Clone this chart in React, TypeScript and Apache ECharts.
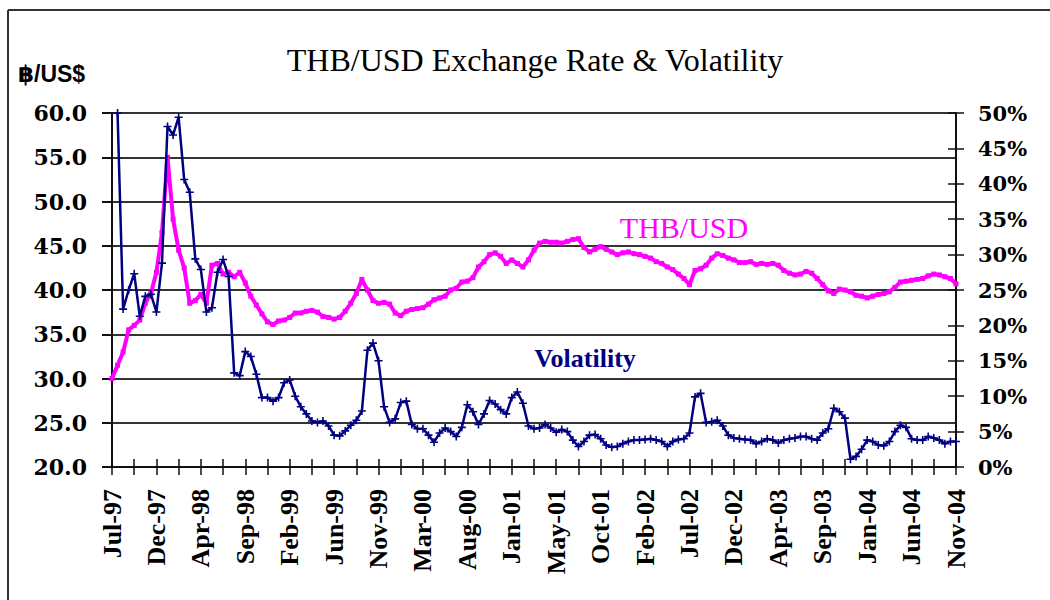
import React, { useEffect, useRef } from "react";
import * as echarts from "echarts";

// Tick labels on the date axis (one every 8 data points)
const dateLabels = [
  "Jul-97", "Dec-97", "Apr-98", "Sep-98", "Feb-99", "Jun-99", "Nov-99",
  "Mar-00", "Aug-00", "Jan-01", "May-01", "Oct-01", "Feb-02", "Jul-02",
  "Dec-02", "Apr-03", "Sep-03", "Jan-04", "Jun-04", "Nov-04",
];
const POINTS_PER_LABEL = 8;

// THB per USD (left axis)
const thbUsd = [
  30.0, 31.5, 33.0, 35.5, 36.0, 36.6, 38.5, 39.6, 42.0, 46.5,
  55.0, 48.0, 44.5, 42.5, 38.5, 38.8, 39.5, 38.5, 42.8, 43.0,
  41.8, 42.0, 41.5, 42.0, 40.8, 39.3, 38.3, 37.3, 36.4, 36.1,
  36.5, 36.6, 36.9, 37.4, 37.4, 37.6, 37.7, 37.5, 37.0, 36.9,
  36.7, 36.9, 37.6, 38.5, 39.6, 41.2, 40.0, 38.8, 38.5, 38.6,
  38.4, 37.4, 37.1, 37.6, 37.8, 37.9, 38.0, 38.4, 38.9, 39.1,
  39.3, 40.0, 40.2, 40.9, 41.0, 41.4, 42.6, 43.2, 44.0, 44.2,
  43.8, 43.0, 43.4, 43.0, 42.6, 43.4, 44.5, 45.3, 45.5, 45.4,
  45.4, 45.3, 45.5, 45.7, 45.8, 44.8, 44.3, 44.6, 44.9, 44.6,
  44.3, 44.0, 44.2, 44.3, 44.1, 44.0, 43.8, 43.6, 43.2, 43.0,
  42.6, 42.3, 41.8, 41.3, 40.6, 42.2, 42.4, 42.8, 43.6, 44.1,
  43.9, 43.6, 43.4, 43.1, 43.1, 43.2, 42.9, 43.0, 42.9, 43.0,
  42.8, 42.2, 41.9, 41.7, 41.8, 42.1, 41.9, 41.3, 40.6, 39.9,
  39.6, 40.1, 40.0, 39.8, 39.4, 39.3, 39.1, 39.3, 39.5, 39.6,
  39.8, 40.3, 40.9, 41.0, 41.1, 41.2, 41.3, 41.6, 41.8, 41.7,
  41.5, 41.3, 40.7,
];

// Volatility in % (right axis)
const volatility = [
  null, 50, 22.3, 25, 27.3, 21.3, 24.1, 24.4, 21.9, 28.8,
  48.1, 46.9, 49.4, 40.6, 38.8, 29.4, 27.9, 21.9, 22.5, 27.5,
  29.3, 26.9, 13.3, 12.9, 16.3, 15.6, 13.1, 9.8, 9.8, 9.3,
  9.8, 11.9, 12.3, 10.0, 8.5, 7.5, 6.5, 6.3, 6.5, 5.8,
  4.5, 4.4, 5.1, 5.9, 6.6, 7.9, 16.5, 17.5, 15.0, 8.5,
  6.3, 6.8, 9.1, 9.3, 6.0, 5.4, 5.4, 4.5, 3.5, 4.8,
  5.5, 5.0, 4.3, 5.6, 8.8, 7.8, 6.0, 7.5, 9.4, 8.9,
  8.1, 7.5, 9.8, 10.6, 9.0, 5.8, 5.4, 5.5, 6.0, 5.5,
  4.9, 5.3, 5.0, 3.8, 2.9, 3.6, 4.5, 4.6, 4.0, 3.1,
  2.8, 2.9, 3.3, 3.6, 3.8, 3.8, 3.9, 4.0, 3.8, 3.6,
  2.9, 3.6, 3.9, 4.0, 4.8, 9.9, 10.4, 6.3, 6.4, 6.6,
  5.8, 4.5, 4.1, 4.0, 3.9, 3.8, 3.3, 3.6, 4.0, 3.8,
  3.4, 3.8, 4.0, 4.1, 4.3, 4.3, 4.0, 3.8, 4.8, 5.4,
  8.3, 7.8, 6.9, 1.1, 1.5, 2.5, 3.8, 3.6, 3.1, 3.0,
  3.6, 5.0, 5.9, 5.6, 4.0, 3.8, 3.8, 4.3, 4.1, 3.8,
  3.3, 3.6, 3.6,
];

const leftTicks = { min: 20, max: 60, interval: 5 };
const rightTicks = { min: 0, max: 50, interval: 5 };

const categories = thbUsd.map((_, i) => String(i));

const PLUS = "path://M4,0H6V4H10V6H6V10H4V6H0V4H4Z";

export default function App() {
  const ref = useRef<HTMLDivElement>(null);
  useEffect(() => {
    if (!ref.current) return;
    const chart = echarts.init(ref.current, undefined, { renderer: "svg" });
    const axisColor = "#111";
    const labelFont = "'DejaVu Serif', serif";
    chart.setOption({
      animation: false,
      backgroundColor: "#fff",
      grid: { left: 112, right: 94, top: 113, bottom: 133, containLabel: false },
      xAxis: [
        {
          type: "category",
          data: categories,
          boundaryGap: false,
          position: "bottom",
          axisLine: { show: true, lineStyle: { color: axisColor, width: 2 } },
          axisTick: { show: true, interval: 3, length: 8, lineStyle: { color: axisColor, width: 1.5 } },
          axisLabel: {
            interval: POINTS_PER_LABEL - 1,
            rotate: 90,
            margin: 22,
            color: "#000",
            fontFamily: "'Liberation Serif', serif",
            fontWeight: "bold",
            fontSize: 26,
            formatter: (_v: string, idx: number) =>
              idx % POINTS_PER_LABEL === 0 ? dateLabels[idx / POINTS_PER_LABEL] : "",
          },
          splitLine: { show: false },
        },
        {
          type: "category",
          data: categories,
          boundaryGap: false,
          position: "bottom",
          axisLine: { show: false },
          axisTick: { show: true, inside: true, interval: 3, length: 8, lineStyle: { color: axisColor, width: 1.5 } },
          axisLabel: { show: false },
          splitLine: { show: false },
        },
      ],
      yAxis: [
        {
          type: "value",
          position: "left",
          min: leftTicks.min,
          max: leftTicks.max,
          interval: leftTicks.interval,
          axisLine: { show: true, lineStyle: { color: axisColor, width: 2 } },
          axisTick: { show: true, length: 10, lineStyle: { color: axisColor, width: 2 } },
          axisLabel: {
            margin: 25,
            color: "#000",
            fontFamily: labelFont,
            fontWeight: "bold",
            fontSize: 22,
            formatter: (v: number) => v.toFixed(1),
          },
          splitLine: { show: true, lineStyle: { color: "#333", width: 2 } },
        },
        {
          type: "value",
          position: "right",
          min: rightTicks.min,
          max: rightTicks.max,
          interval: rightTicks.interval,
          axisLine: { show: true, lineStyle: { color: axisColor, width: 2 } },
          axisTick: { show: true, length: 8, lineStyle: { color: axisColor, width: 1.5 } },
          axisLabel: {
            margin: 22,
            color: "#000",
            fontFamily: labelFont,
            fontWeight: "bold",
            fontSize: 21,
            formatter: (v: number) => `${v}%`,
          },
          splitLine: { show: false },
        },
        {
          type: "value",
          position: "right",
          min: rightTicks.min,
          max: rightTicks.max,
          interval: rightTicks.interval,
          axisLine: { show: false },
          axisTick: { show: true, inside: true, length: 8, lineStyle: { color: axisColor, width: 1.5 } },
          axisLabel: { show: false },
          splitLine: { show: false },
        },
      ],
      series: [
        {
          name: "THB/USD",
          type: "line",
          xAxisIndex: 0,
          yAxisIndex: 0,
          data: thbUsd,
          showAllSymbol: true,
          symbol: "rect",
          symbolSize: 5,
          itemStyle: { color: "#ff00ff" },
          lineStyle: { color: "#ff00ff", width: 4 },
          z: 3,
        },
        {
          name: "Volatility",
          type: "line",
          xAxisIndex: 0,
          yAxisIndex: 1,
          data: volatility,
          connectNulls: false,
          showAllSymbol: true,
          symbol: PLUS,
          symbolSize: 8,
          itemStyle: { color: "#000080" },
          lineStyle: { color: "#000080", width: 2.5 },
          z: 4,
        },
      ],
      graphic: [
        { type: "line", shape: { x1: 8, y1: 10, x2: 8, y2: 600 }, style: { stroke: "#333", lineWidth: 2 } },
        { type: "line", shape: { x1: 8, y1: 10, x2: 1050, y2: 10 }, style: { stroke: "#333", lineWidth: 2 } },
        {
          type: "text",
          x: 535,
          y: 60,
          style: {
            text: "THB/USD Exchange Rate & Volatility",
            fill: "#000",
            font: "32px 'Liberation Serif', serif",
            textAlign: "center",
            textVerticalAlign: "middle",
          },
        },
        {
          type: "text",
          x: 18,
          y: 74,
          style: {
            text: "฿/US$",
            fill: "#000",
            font: "bold 23px 'Liberation Sans', 'DejaVu Sans', sans-serif",
            textAlign: "left",
            textVerticalAlign: "middle",
          },
        },
        {
          type: "text",
          x: 684,
          y: 227,
          style: {
            text: "THB/USD",
            fill: "#ff00ff",
            font: "30px 'Liberation Serif', serif",
            textAlign: "center",
            textVerticalAlign: "middle",
          },
        },
        {
          type: "text",
          x: 585,
          y: 358,
          style: {
            text: "Volatility",
            fill: "#000080",
            font: "bold 26px 'Liberation Serif', serif",
            textAlign: "center",
            textVerticalAlign: "middle",
          },
        },
      ],
    });
    return () => chart.dispose();
  }, []);
  return (
    <div
      ref={ref}
      style={{ position: "fixed", left: 0, top: 0, width: 1050, height: 600, background: "#fff" }}
    />
  );
}
